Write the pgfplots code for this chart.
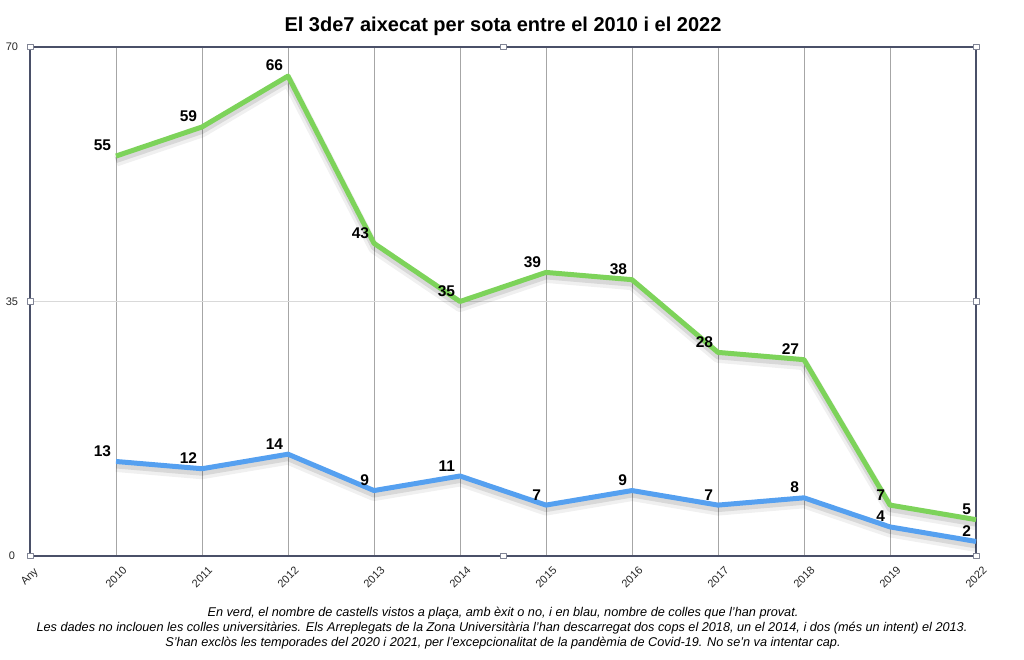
\documentclass[border=0pt]{standalone}
\usepackage{fontspec}
\setmainfont{Liberation Sans}
\usepackage{pgfplots}
\pgfplotsset{compat=1.18}
\definecolor{grn}{HTML}{7DD35A}
\definecolor{blu}{HTML}{55A0F0}
\definecolor{framec}{HTML}{4A5068}
\begin{document}
\begin{tikzpicture}
\useasboundingbox (0pt,0pt) rectangle (1024pt,660pt);
\begin{axis}[
  at={(30pt,104pt)}, anchor=south west, scale only axis,
  width=946pt, height=509pt,
  xmin=0, xmax=11, ymin=0, ymax=70,
  xtick={0,1,2,3,4,5,6,7,8,9,10,11},
  xticklabels={Any,2010,2011,2012,2013,2014,2015,2016,2017,2018,2019,2022},
  ytick={0,35,70},
  major tick length=0pt,
  /pgf/number format/assume math mode=true,
  ticklabel style={font=\fontsize{11}{12}\selectfont, text=black!85},
  xticklabel style={yshift=-21pt, rotate=45, anchor=center},
  yticklabel style={anchor=center, xshift=-18pt},
  axis line style={framec, line width=1.3pt},
  xmajorgrids, ymajorgrids,
  x grid style={black!35, line width=0.6pt},
  y grid style={black!15, line width=0.6pt},
  clip=false,
  line join=round,
]
\addplot[black, opacity=0.06, line width=11pt, yshift=-5pt, forget plot] coordinates {(1,55)(2,59)(3,66)(4,43)(5,35)(6,39)(7,38)(8,28)(9,27)(10,7)(11,5)};
\addplot[black, opacity=0.10, line width=6pt, yshift=-4pt, forget plot] coordinates {(1,55)(2,59)(3,66)(4,43)(5,35)(6,39)(7,38)(8,28)(9,27)(10,7)(11,5)};
\addplot[black, opacity=0.06, line width=11pt, yshift=-5pt, forget plot] coordinates {(1,13)(2,12)(3,14)(4,9)(5,11)(6,7)(7,9)(8,7)(9,8)(10,4)(11,2)};
\addplot[black, opacity=0.10, line width=6pt, yshift=-4pt, forget plot] coordinates {(1,13)(2,12)(3,14)(4,9)(5,11)(6,7)(7,9)(8,7)(9,8)(10,4)(11,2)};
\addplot[grn, line width=5pt, nodes near coords,
  every node near coord/.append style={anchor=south east, inner sep=2.5pt, text=black, font=\fontsize{15.5}{15.5}\selectfont\bfseries}]
  coordinates {(1,55)(2,59)(3,66)(4,43)(5,35)(6,39)(7,38)(8,28)(9,27)(10,7)(11,5)};
\addplot[blu, line width=5pt, nodes near coords,
  every node near coord/.append style={anchor=south east, inner sep=2.5pt, text=black, font=\fontsize{15.5}{15.5}\selectfont\bfseries}]
  coordinates {(1,13)(2,12)(3,14)(4,9)(5,11)(6,7)(7,9)(8,7)(9,8)(10,4)(11,2)};
\foreach \p in {{0,0},{0.5,0},{1,0},{0,0.5},{1,0.5},{0,1},{0.5,1},{1,1}}{
  \edef\tmp{\noexpand\node[draw=framec!70, fill=white, line width=0.5pt, minimum size=5.5pt, inner sep=0pt] at (rel axis cs:\p) {};}\tmp
}
\end{axis}
\node[anchor=base, font=\fontsize{20}{20}\selectfont\bfseries] at (503pt,628pt) {El 3de7 aixecat per sota entre el 2010 i el 2022};
\node[anchor=base, font=\fontsize{12.7}{15}\selectfont\itshape] at (503pt,43pt) {En verd, el nombre de castells vistos a plaça, amb èxit o no, i en blau, nombre de colles que l'han provat.};
\node[anchor=base, font=\fontsize{12.7}{15}\selectfont\itshape] at (502pt,28pt) {Les dades no inclouen les colles universitàries. Els Arreplegats de la Zona Universitària l'han descarregat dos cops el 2018, un el 2014, i dos (més un intent) el 2013.};
\node[anchor=base, font=\fontsize{12.7}{15}\selectfont\itshape] at (503pt,13pt) {S'han exclòs les temporades del 2020 i 2021, per l'excepcionalitat de la pandèmia de Covid-19. No se'n va intentar cap.};
\end{tikzpicture}
\end{document}
